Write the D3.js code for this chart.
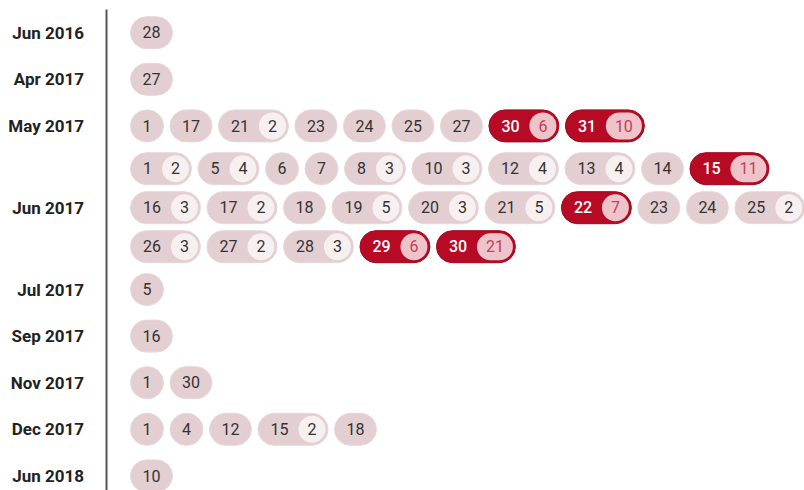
<!DOCTYPE html>
<html>
<head>
<meta charset="utf-8">
<script src="https://d3js.org/d3.v7.min.js"></script>
<style>
  body { margin: 0; padding: 0; background: #fff; }
  svg { display: block; font-family: Roboto, "Noto Sans", sans-serif; }
</style>
</head>
<body>
<div id="svg_cont"></div>
<script>

// months shown on the left, and the days (with number of items) in each
var months = ['Jun 2016', 'Apr 2017', 'May 2017', 'Jun 2017', 'Jul 2017',
              'Sep 2017', 'Nov 2017', 'Dec 2017', 'Jun 2018'];

var days = [
  [28],
  [27],
  [1, 17, 21, 23, 24, 25, 27, 30, 31],
  [1, 5, 6, 7, 8, 10, 12, 13, 14, 15, 16, 17, 18, 19, 20, 21, 22, 23, 24, 25, 26, 27, 28, 29, 30],
  [5],
  [16],
  [1, 30],
  [1, 4, 12, 15, 18],
  [10]
];

var counts = [
  [1],
  [1],
  [1, 1, 2, 1, 1, 1, 1, 6, 10],
  [2, 4, 1, 1, 3, 3, 4, 4, 1, 11, 3, 2, 1, 5, 3, 5, 7, 1, 1, 2, 3, 2, 3, 6, 21],
  [1],
  [1],
  [1, 1],
  [1, 1, 1, 2, 1],
  [1]
];

var hot_limit = 6;   // days with this many or more get the red pill

var w = 804, h = 490;
var axis_x = 106.5;
var pill_x0 = 130;
var wrap_x = 820;
var pill_h = 33, pill_gap = 5.5, line_step = 39, row_min = 46.6;
var top_y = 9.4;

var svg_main = d3.select('#svg_cont').append('svg')
  .attr('width', w)
  .attr('height', h);

// measure text widths with a scratch text node
var scratch = svg_main.append('text').style('font-size', '16px');
function text_w(s) {
  scratch.text(s);
  return scratch.node().getComputedTextLength();
}

// lay out pills per month, wrapping into lines
var groups = months.map(function(m, gi) {
  var pills = days[gi].map(function(d, k) {
    var c = counts[gi][k];
    var tw = text_w(String(d));
    var bw = 0, pw;
    if (c > 1) {
      bw = Math.max(27, text_w(String(c)) + 18);
      pw = 13 + tw + 10 + bw + 3;
    } else {
      pw = tw + 25;
    }
    return {day: d, count: c, tw: tw, bw: bw, w: pw, hot: c >= hot_limit};
  });
  var line = 0, x = pill_x0;
  pills.forEach(function(p) {
    if (x > pill_x0 && x + p.w > wrap_x) { line += 1; x = pill_x0; }
    p.x = x; p.line = line;
    x += p.w + pill_gap;
  });
  var n_lines = line + 1;
  return {month: m, pills: pills, n_lines: n_lines,
          height: Math.max(row_min, n_lines * line_step)};
});
scratch.remove();

var tops = d3.cumsum([0].concat(groups.map(g => g.height)));
groups.forEach(function(g, i) {
  g.top = top_y + tops[i];
  g.mid = g.top + g.height / 2;
  g.pills.forEach(function(p) {
    p.cy = g.mid + (p.line - (g.n_lines - 1) / 2) * line_step;
  });
});

// axis line
svg_main.append('line')
  .attr('x1', axis_x).attr('x2', axis_x)
  .attr('y1', top_y).attr('y2', h)
  .attr('stroke', '#555')
  .attr('stroke-width', 2);

var g_rows = svg_main.selectAll('g.row')
  .data(groups)
  .enter().append('g')
  .attr('class', 'row');

g_rows.append('text')
  .attr('x', 84)
  .attr('y', d => d.mid)
  .attr('dy', '0.36em')
  .attr('text-anchor', 'end')
  .style('font-size', '17px')
  .style('font-weight', 'bold')
  .attr('fill', '#222')
  .text(d => d.month);

var pill = g_rows.selectAll('g.pill')
  .data(d => d.pills)
  .enter().append('g')
  .attr('class', 'pill')
  .attr('transform', d => 'translate(' + d.x + ',' + d.cy + ')');

pill.append('rect')
  .attr('x', 0.5)
  .attr('y', -pill_h / 2 + 0.5)
  .attr('width', d => d.w - 1)
  .attr('height', pill_h - 1)
  .attr('rx', (pill_h - 1) / 2)
  .attr('fill', d => d.hot ? '#b70a24' : '#e3ced2')
  .attr('stroke', d => d.hot ? '#a0081e' : '#e8d8db')
  .attr('stroke-width', 1);

pill.append('text')
  .attr('x', d => d.count > 1 ? 13 : d.w / 2)
  .attr('dy', '0.36em')
  .attr('text-anchor', d => d.count > 1 ? 'start' : 'middle')
  .style('font-size', '16px')
  .attr('fill', d => d.hot ? '#fff' : '#333')
  .style('font-weight', d => d.hot ? 500 : 'normal')
  .text(d => d.day);

var badge = pill.filter(d => d.count > 1);

badge.append('rect')
  .attr('x', d => d.w - 3 - d.bw)
  .attr('y', -13.5)
  .attr('width', d => d.bw)
  .attr('height', 27)
  .attr('rx', 13.5)
  .attr('fill', d => d.hot ? '#efc3ca' : '#f7f0f1');

badge.append('text')
  .attr('x', d => d.w - 3 - d.bw / 2)
  .attr('dy', '0.36em')
  .attr('text-anchor', 'middle')
  .style('font-size', '16px')
  .attr('fill', d => d.hot ? '#c0405a' : '#333')
  .text(d => d.count);

</script>
</body>
</html>
